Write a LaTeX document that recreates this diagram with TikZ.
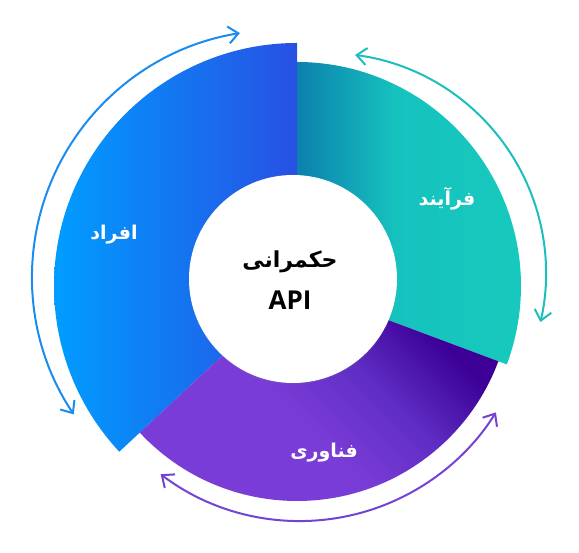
\documentclass[tikz,border=0pt]{standalone}
\usepackage{fontspec}
\setmainfont{Open Sans}
\newfontfamily\arabicfont[Script=Arabic]{DejaVu Sans}
\TeXXeTstate=1
\usetikzlibrary{arrows.meta,shadows}
\definecolor{peopleL}{HTML}{009DFF}
\definecolor{peopleR}{HTML}{2850E3}
\definecolor{procL}{HTML}{0C80AE}
\definecolor{procM}{HTML}{16C2BE}
\definecolor{procR}{HTML}{17CABD}
\definecolor{techB}{HTML}{7A3CD7}
\definecolor{techM}{HTML}{5F2EC4}
\definecolor{techT}{HTML}{3C0097}
\definecolor{peopleA}{HTML}{1A8CF0}
\definecolor{procA}{HTML}{1CBEC0}
\definecolor{techA}{HTML}{7443D3}
\pgfdeclareverticalshading{techshade}{100bp}{color(0bp)=(techB); color(25bp)=(techB);%
  color(46bp)=(techB); color(59bp)=(techM); color(72bp)=(techT); color(100bp)=(techT)}
\pgfdeclarehorizontalshading{procshade}{100bp}{color(0bp)=(procL); color(25bp)=(procL);%
  color(46bp)=(procM); color(75bp)=(procR); color(100bp)=(procR)}
\tikzset{%
  cyclearrow/.style = {line width=2pt,%
                       {Straight Barb[length=10pt,width=17pt]}-{Straight Barb[length=10pt,width=17pt]}},%
  seglabel/.style   = {text=white, font=\arabicfont\bfseries\fontsize{19}{20}\selectfont},%
  hub/.style        = {circle, fill=white, minimum size=208pt, inner sep=0pt,%
                       drop shadow={shadow xshift=0pt, shadow yshift=-1.5pt, opacity=0.15}},%
  hubtext/.style    = {inner sep=0pt, font=\bfseries\fontsize{26}{30}\selectfont}%
}

\begin{document}
\begin{tikzpicture}[x=1pt, y=1pt]
  \useasboundingbox (0,0) rectangle (579,553);
  \coordinate (c) at (297,267);
  \shade[left color=peopleL, right color=peopleR]
    (c) -- ++(90:243) arc[start angle=90, end angle=223, radius=243] -- cycle;
  \shade[shading=procshade]
    (c) -- ++(90:224) arc[start angle=90, end angle=-20.5, radius=224] -- cycle;
  \shade[shading=techshade, shading angle=-45]
    (c) -- ++(223:215) arc[start angle=223, end angle=339.5, radius=215] -- cycle;
  \node[hub] (hub) at (293,274) {};
  \node[hubtext, font=\arabicfont\bfseries\fontsize{22}{30}\selectfont] (gov) at (290,291) {\beginR حکمرانی\endR};
  \node[hubtext] (api) at (290,252.5) {API};
  \node[seglabel] (people) at (114,318) {\beginR افراد\endR};
  \node[seglabel] (process) at (447,354) {\beginR فرآیند\endR};
  \node[seglabel] (tech) at (324,100) {\beginR فناوری\endR};
  \coordinate (peopleC) at (279,276);
  \coordinate (procC) at (326,280);
  \coordinate (techC) at (300,263);
  \draw[cyclearrow, peopleA] ([shift={(99.1:247)}]peopleC) arc[start angle=99.1, end angle=213.8, radius=247];
  \draw[cyclearrow, procA] ([shift={(82.4:220)}]procC) arc[start angle=82.4, end angle=-12.9, radius=220];
  \draw[cyclearrow, techA] ([shift={(232.9:231)}]techC) arc[start angle=232.9, end angle=328, radius=231];
\end{tikzpicture}
\end{document}
